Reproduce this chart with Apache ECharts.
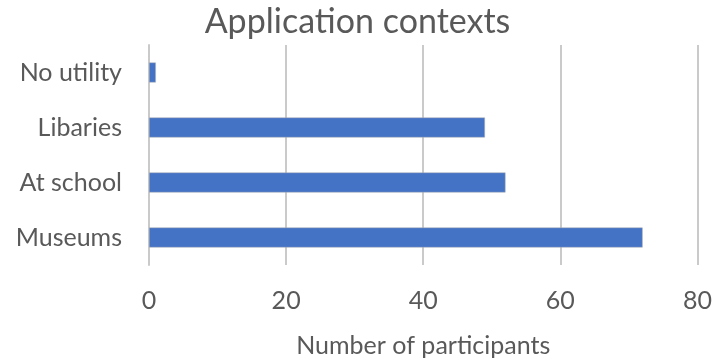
<!DOCTYPE html>
<html>
<head>
<meta charset="utf-8">
<script src="https://cdn.jsdelivr.net/npm/echarts@6/dist/echarts.min.js"></script>
<style>
  html, body { margin: 0; padding: 0; background: #fff; }
  #chart { width: 715px; height: 363px; }
</style>
</head>
<body>
<div id="chart"></div>
<script>
// data, bottom to top
const categories = ['Museums', 'At school', 'Libaries', 'No utility']
const participants = [72, 52, 49, 1]
const xTicks = [0, 20, 40, 60, 80]

const textColor = '#595959'
const font = 'Lato'

const chart = echarts.init(document.getElementById('chart'))
chart.setOption({
  animation: false,
  title: {
    text: 'Application contexts',
    left: 'center',
    top: 0,
    textStyle: { fontFamily: font, fontSize: 34, fontWeight: 'normal', color: textColor }
  },
  grid: { left: 149, right: 16, top: 45, bottom: 94 },
  xAxis: {
    type: 'value',
    min: xTicks[0],
    max: xTicks[xTicks.length - 1],
    interval: 20,
    name: 'Number of participants',
    nameLocation: 'middle',
    nameGap: 68,
    nameTextStyle: { fontFamily: font, fontSize: 25, color: textColor },
    axisLine: { show: false },
    axisTick: { show: false },
    axisLabel: { margin: 23, fontFamily: font, fontSize: 25, color: textColor },
    splitLine: { show: true, lineStyle: { color: '#cacaca', width: 2 } }
  },
  yAxis: {
    type: 'category',
    data: categories,
    axisLine: { show: true, lineStyle: { color: '#cacaca', width: 2 } },
    axisTick: { show: false },
    axisLabel: { margin: 27, fontFamily: font, fontSize: 25, color: textColor }
  },
  series: [{
    type: 'bar',
    data: participants,
    barWidth: 20,
    itemStyle: { color: '#4472c4', borderColor: '#b4b4b4', borderWidth: 0.5 }
  }]
})
</script>
</body>
</html>
